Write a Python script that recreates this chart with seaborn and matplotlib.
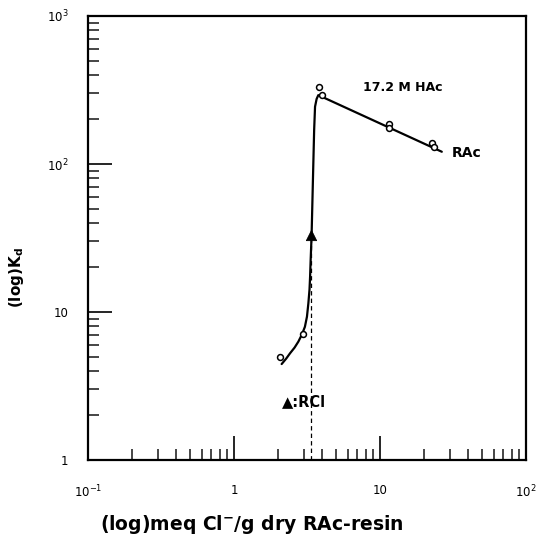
import numpy as np
import pandas as pd
import matplotlib
matplotlib.use("Agg")
import matplotlib.pyplot as plt
from matplotlib.ticker import LogLocator, NullFormatter, FixedLocator
import seaborn as sns

# Measured distribution coefficients (open circles)
meq_cl = [2.07, 2.97, 3.84, 3.99, 11.5, 11.6, 22.6, 23.5]
kd_meas = [5.0, 7.1, 333, 293, 185, 174, 138, 130]

# Smoothed curve drawn through the measurements
curve_x = [2.12, 2.28, 2.42, 2.60, 2.76, 2.92, 3.06, 3.16, 3.23, 3.29, 3.32,
           3.35, 3.40, 3.45, 3.49, 3.54, 3.59, 3.68, 3.78, 26.5]
curve_y = [4.45, 4.85, 5.26, 5.75, 6.31, 7.05, 7.95, 9.3, 11.4, 14.2, 17.3,
           22.5, 33.0, 60.0, 96.0, 170, 244, 275, 292, 121]

# Pure chloride form of the resin (filled triangle)
rcl_x = [3.35]
rcl_y = [33.0]

x_ticks = [0.1, 1, 10, 100]
x_ticklabels = ["$10^{-1}$", "1", "10", "$10^{2}$"]
y_ticks = [1, 10, 100, 1000]
y_ticklabels = ["1", "10", "$10^{2}$", "$10^{3}$"]

sns.set_theme(style="ticks")
plt.rcParams["font.family"] = ["DejaVu Sans"]
plt.rcParams["text.color"] = "black"

fig = plt.figure(figsize=(5.36, 5.36), dpi=100)
ax = fig.add_axes([88 / 536, 76 / 536, 438 / 536, 444 / 536])

curve = pd.DataFrame({"x": curve_x, "y": curve_y})
meas = pd.DataFrame({"x": meq_cl, "y": kd_meas})
rcl = pd.DataFrame({"x": rcl_x, "y": rcl_y})

ax.set_xscale("log")
ax.set_yscale("log")

sns.lineplot(data=curve, x="x", y="y", sort=False, estimator=None,
             color="black", lw=1.6, ax=ax)
sns.scatterplot(data=meas, x="x", y="y", marker="o", s=18,
                facecolor="white", edgecolor="black", linewidth=1.1,
                ax=ax, zorder=4)
# dashed drop line from the RCl point to the axis
ax.plot([rcl_x[0], rcl_x[0]], [1, rcl_y[0]], color="black", lw=0.9,
        ls=(0, (3.5, 2.5)), zorder=2)
sns.scatterplot(data=rcl, x="x", y="y", marker="^", s=55, color="black",
                edgecolor="black", ax=ax, zorder=5)

ax.set_xlim(0.1, 100)
ax.set_ylim(1, 1000)

ax.xaxis.set_major_locator(FixedLocator(x_ticks))
ax.set_xticklabels(x_ticklabels)
ax.yaxis.set_major_locator(FixedLocator(y_ticks))
ax.set_yticklabels(y_ticklabels)
ax.xaxis.set_minor_locator(LogLocator(base=10, subs=np.arange(2, 10)))
ax.yaxis.set_minor_locator(LogLocator(base=10, subs=np.arange(2, 10)))
ax.xaxis.set_minor_formatter(NullFormatter())
ax.yaxis.set_minor_formatter(NullFormatter())

ax.tick_params(which="major", direction="in", length=17, width=1.2,
               top=False, right=False, labelsize=8.5, colors="black")
ax.tick_params(axis="x", which="major", pad=17)
ax.tick_params(axis="y", which="major", pad=14)
ax.tick_params(which="minor", direction="in", length=8, width=1.2,
               top=False, right=False)

for sp in ax.spines.values():
    sp.set_linewidth(1.6)
    sp.set_color("black")

ax.set_xlabel("")
ax.set_ylabel("")

ax.text(14.4, 331, "17.2 M HAc", ha="center", va="center",
        fontsize=9, fontweight="bold")
ax.text(31, 119, "RAc", ha="left", va="center",
        fontsize=10, fontweight="bold")
ax.text(2.12, 2.47, "▲:RCl", ha="left", va="center",
        fontsize=10.5, fontweight="bold")

fig.text(252 / 536, 1 - 524 / 536, "(log)meq Cl$^{\\mathbf{-}}$/g dry RAc-resin",
         ha="center", va="center", fontsize=13.5, fontweight="bold")
fig.text(17 / 536, 1 - 277 / 536, "(log)K$_{\\mathregular{d}}$",
         ha="center", va="center", fontsize=11, fontweight="bold",
         rotation=90)

fig.savefig("out.png", dpi=100, facecolor="white")
